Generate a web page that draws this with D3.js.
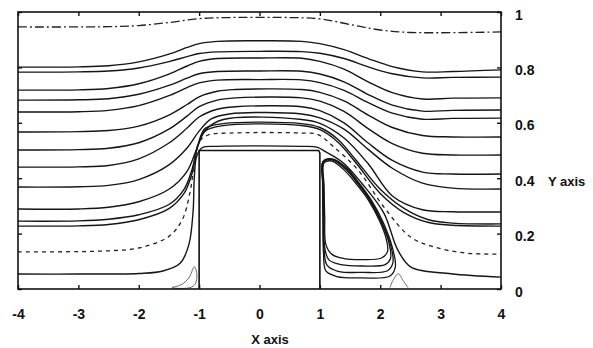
<!DOCTYPE html>
<html>
<head>
<meta charset="utf-8">
<script src="https://cdn.jsdelivr.net/npm/d3@7/dist/d3.min.js"></script>
<style>
  body { margin: 0; background: #fff; }
  svg { display: block; }
  text { font-family: "Liberation Sans", Arial, sans-serif; fill: #111; }
</style>
</head>
<body>
<div id="chart"></div>
<script>
const xTicks = [-4, -3, -2, -1, 0, 1, 2, 3, 4];
const yTicks = [0, 0.2, 0.4, 0.6, 0.8, 1];

// step (block) outline
const block = [[-1, 0], [-1, 0.5], [0.98, 0.5], [1.0, 0.49], [1.0, 0]];

// streamlines, top to bottom
const line1 = [[-4, 0.946], [-2.5, 0.947], [-2, 0.951], [-1.5, 0.962], [-1, 0.976], [-0.5, 0.98], [0.5, 0.98], [1, 0.975], [1.5, 0.955], [2, 0.935], [2.5, 0.926], [4, 0.928]];
const line2 = [[-4, 0.801], [-3, 0.802], [-2.5, 0.806], [-2, 0.82], [-1.5, 0.848], [-1.2, 0.872], [-1, 0.886], [-0.7, 0.894], [0, 0.896], [0.7, 0.894], [1, 0.886], [1.4, 0.864], [1.8, 0.832], [2.2, 0.803], [2.7, 0.784], [3.2, 0.785], [4, 0.791]];
const line3 = [[-4, 0.783], [-3, 0.784], [-2.5, 0.787], [-2, 0.798], [-1.5, 0.821], [-1.2, 0.839], [-1, 0.85], [-0.7, 0.856], [0, 0.858], [0.7, 0.857], [1, 0.851], [1.4, 0.832], [1.8, 0.802], [2.2, 0.777], [2.7, 0.762], [3.2, 0.764], [4, 0.765]];
const line4 = [[-4, 0.718], [-3, 0.719], [-2.5, 0.724], [-2, 0.741], [-1.5, 0.776], [-1.2, 0.805], [-1, 0.822], [-0.7, 0.832], [0, 0.834], [0.7, 0.833], [1, 0.822], [1.4, 0.794], [1.8, 0.748], [2.2, 0.709], [2.7, 0.686], [3.2, 0.689], [4, 0.69]];
const line5 = [[-4, 0.682], [-3, 0.683], [-2.5, 0.687], [-2, 0.703], [-1.5, 0.735], [-1.2, 0.761], [-1, 0.777], [-0.7, 0.785], [0, 0.787], [0.7, 0.786], [1, 0.776], [1.4, 0.748], [1.8, 0.702], [2.2, 0.664], [2.7, 0.642], [3.2, 0.645], [4, 0.646]];
const line6 = [[-4, 0.639], [-3, 0.64], [-2.5, 0.645], [-2, 0.662], [-1.5, 0.698], [-1.2, 0.727], [-1, 0.744], [-0.7, 0.754], [0, 0.756], [0.7, 0.755], [1, 0.745], [1.4, 0.717], [1.8, 0.673], [2.2, 0.635], [2.7, 0.613], [3.2, 0.616], [4, 0.617]];
const line7 = [[-4, 0.567], [-3, 0.568], [-2.5, 0.572], [-2, 0.588], [-1.5, 0.628], [-1.2, 0.666], [-1, 0.694], [-0.7, 0.714], [-0.4, 0.72], [0.7, 0.72], [1, 0.71], [1.4, 0.679], [1.8, 0.628], [2.2, 0.583], [2.7, 0.554], [3.2, 0.549], [4, 0.549]];
const line8 = [[-4, 0.502], [-3, 0.503], [-2.5, 0.508], [-2, 0.528], [-1.5, 0.577], [-1.2, 0.624], [-1, 0.658], [-0.7, 0.682], [-0.4, 0.69], [0.7, 0.69], [1, 0.678], [1.4, 0.641], [1.8, 0.579], [2.2, 0.525], [2.7, 0.49], [3.2, 0.484], [4, 0.484]];
const line9 = [[-4, 0.44], [-3, 0.441], [-2.5, 0.446], [-2, 0.47], [-1.5, 0.527], [-1.2, 0.581], [-1, 0.621], [-0.7, 0.649], [-0.4, 0.658], [0.7, 0.658], [1, 0.644], [1.4, 0.6], [1.8, 0.527], [2.2, 0.464], [2.7, 0.422], [3.2, 0.415], [4, 0.415]];
const line10 = [[-4, 0.368], [-3, 0.369], [-2.5, 0.374], [-2, 0.395], [-1.5, 0.448], [-1.2, 0.509], [-1, 0.57], [-0.8, 0.614], [-0.5, 0.632], [0.7, 0.632], [1, 0.618], [1.4, 0.577], [1.8, 0.504], [2.2, 0.436], [2.7, 0.382], [3.2, 0.364], [4, 0.361]];
const line11 = [[-4, 0.289], [-3, 0.289], [-2.5, 0.295], [-2, 0.315], [-1.5, 0.36], [-1.2, 0.425], [-1.05, 0.5], [-0.9, 0.573], [-0.6, 0.612], [0.7, 0.612], [1, 0.598], [1.4, 0.545], [1.8, 0.452], [2.2, 0.336], [2.7, 0.286], [3.2, 0.279], [4, 0.278]];
const line12 = [[-4, 0.245], [-3, 0.246], [-2.5, 0.252], [-2, 0.268], [-1.5, 0.305], [-1.25, 0.36], [-1.12, 0.43], [-1.02, 0.52], [-0.9, 0.58], [-0.6, 0.597], [0.7, 0.597], [1, 0.583], [1.3, 0.54], [1.6, 0.465], [2.0, 0.36], [2.4, 0.29], [2.8, 0.25], [3.2, 0.238], [4, 0.235]];
const line13 = [[-4, 0.227], [-3, 0.228], [-2.5, 0.233], [-2, 0.25], [-1.5, 0.29], [-1.25, 0.345], [-1.12, 0.415], [-1.03, 0.51], [-0.9, 0.57], [-0.6, 0.59], [0.7, 0.59], [1, 0.575], [1.3, 0.53], [1.6, 0.455], [2.0, 0.345], [2.4, 0.275], [2.8, 0.24], [3.2, 0.23], [4, 0.227]];
const line14 = [[-4, 0.134], [-3, 0.135], [-2.5, 0.138], [-2, 0.148], [-1.5, 0.19], [-1.28, 0.25], [-1.15, 0.35], [-1.08, 0.45], [-1.0, 0.53], [-0.85, 0.556], [-0.5, 0.563], [0.7, 0.563], [0.96, 0.558], [1.23, 0.513], [1.63, 0.43], [2.06, 0.296], [2.5, 0.188], [2.89, 0.152], [3.4, 0.13], [4, 0.126]];
const line15 = [[-4, 0.054], [-3, 0.054], [-2, 0.056], [-1.6, 0.065], [-1.31, 0.094], [-1.17, 0.16], [-1.1, 0.28], [-1.08, 0.4], [-1.04, 0.48], [-0.95, 0.51], [-0.7, 0.515], [0.7, 0.515], [0.95, 0.512], [1.1, 0.495], [1.39, 0.455], [1.7, 0.38], [2.06, 0.274], [2.29, 0.141], [2.51, 0.079], [3.17, 0.055], [4, 0.043]];

const solidLines = [line2, line3, line4, line5, line6, line7, line8, line9, line10, line11, line12, line13, line15];

// recirculation bubble behind the step (closed loops)
const vortex1 = [[1.07, 0.455], [1.2, 0.462], [1.4, 0.43], [1.6, 0.38], [1.8, 0.322], [1.98, 0.25], [2.1, 0.18], [2.12, 0.135], [2.02, 0.112], [1.7, 0.106], [1.4, 0.11], [1.2, 0.125], [1.1, 0.16], [1.08, 0.26], [1.07, 0.37]];
const vortex2 = [[1.06, 0.46], [1.2, 0.466], [1.42, 0.434], [1.62, 0.382], [1.82, 0.322], [2.0, 0.248], [2.14, 0.17], [2.17, 0.11], [2.08, 0.088], [1.7, 0.083], [1.35, 0.088], [1.15, 0.105], [1.08, 0.15], [1.065, 0.26], [1.06, 0.38]];
const vortex3 = [[1.055, 0.46], [1.2, 0.468], [1.43, 0.436], [1.63, 0.383], [1.84, 0.32], [2.02, 0.245], [2.17, 0.16], [2.21, 0.095], [2.12, 0.066], [1.7, 0.06], [1.3, 0.064], [1.12, 0.085], [1.07, 0.14], [1.055, 0.26], [1.05, 0.38]];
const vortex4 = [[1.05, 0.46], [1.2, 0.47], [1.44, 0.438], [1.64, 0.385], [1.86, 0.318], [2.05, 0.24], [2.2, 0.15], [2.25, 0.08], [2.16, 0.047], [1.7, 0.04], [1.28, 0.045], [1.1, 0.065], [1.06, 0.13], [1.05, 0.26], [1.045, 0.38]];
const vortexLoops = [vortex1, vortex2, vortex3, vortex4];

// small corner eddies
const cornerUp = [[-1.45, 0.005], [-1.3, 0.015], [-1.17, 0.04], [-1.08, 0.08], [-1.04, 0.06], [-1.06, 0.02], [-1.15, 0.005]];
const cornerDown = [[2.16, 0.005], [2.22, 0.035], [2.3, 0.055], [2.38, 0.03], [2.46, 0.005]];

const W = 593, H = 348;
const plot = { left: 18, right: 501, top: 12, bottom: 289 };

const x = d3.scaleLinear().domain([-4, 4]).range([plot.left, plot.right]);
const y = d3.scaleLinear().domain([0, 1]).range([plot.bottom, plot.top]);

const svg = d3.select('#chart')
  .append('svg')
  .attr('width', W)
  .attr('height', H);

svg.append('clipPath')
  .attr('id', 'clip')
  .append('rect')
  .attr('x', plot.left)
  .attr('y', plot.top)
  .attr('width', plot.right - plot.left)
  .attr('height', plot.bottom - plot.top);

const g = svg.append('g').attr('clip-path', 'url(#clip)');

const smooth = d3.line()
  .x(d => x(d[0]))
  .y(d => y(d[1]))
  .curve(d3.curveCatmullRom.alpha(0.5));

const closed = d3.line()
  .x(d => x(d[0]))
  .y(d => y(d[1]))
  .curve(d3.curveCatmullRomClosed.alpha(0.5));

g.selectAll('.stream')
  .data(solidLines)
  .enter()
  .append('path')
  .attr('class', 'stream')
  .attr('d', smooth)
  .attr('fill', 'none')
  .attr('stroke', '#151515')
  .attr('stroke-width', 1.4);

g.append('path')
  .attr('d', smooth(line1))
  .attr('fill', 'none')
  .attr('stroke', '#222')
  .attr('stroke-width', 1.3)
  .attr('stroke-dasharray', '9,3,2,3');

g.append('path')
  .attr('d', smooth(line14))
  .attr('fill', 'none')
  .attr('stroke', '#222')
  .attr('stroke-width', 1.3)
  .attr('stroke-dasharray', '4,4');

g.selectAll('.vortex')
  .data(vortexLoops)
  .enter()
  .append('path')
  .attr('class', 'vortex')
  .attr('d', closed)
  .attr('fill', 'none')
  .attr('stroke', '#151515')
  .attr('stroke-width', 1.3);

g.append('path')
  .attr('d', closed(cornerUp))
  .attr('fill', 'none')
  .attr('stroke', '#444')
  .attr('stroke-width', 0.8);

g.append('path')
  .attr('d', smooth(cornerDown))
  .attr('fill', 'none')
  .attr('stroke', '#444')
  .attr('stroke-width', 0.8);

g.append('path')
  .attr('d', d3.line().x(d => x(d[0])).y(d => y(d[1]))(block))
  .attr('fill', '#fff')
  .attr('stroke', '#111')
  .attr('stroke-width', 1.6);

// frame
svg.append('rect')
  .attr('x', plot.left)
  .attr('y', plot.top)
  .attr('width', plot.right - plot.left)
  .attr('height', plot.bottom - plot.top)
  .attr('fill', 'none')
  .attr('stroke', '#111')
  .attr('stroke-width', 1.6);

// axes with inward ticks
const xAxis = svg.append('g')
  .attr('transform', 'translate(0,' + plot.bottom + ')')
  .call(d3.axisBottom(x).tickValues(xTicks).tickFormat(d => String(d))
    .tickSizeInner(-4).tickSizeOuter(0).tickPadding(20));

svg.append('g')
  .attr('transform', 'translate(0,' + plot.top + ')')
  .call(d3.axisTop(x).tickValues(xTicks).tickFormat('')
    .tickSizeInner(-4).tickSizeOuter(0));

const yAxis = svg.append('g')
  .attr('transform', 'translate(' + plot.right + ',0)')
  .call(d3.axisRight(y).tickValues(yTicks).tickFormat(d => String(d))
    .tickSizeInner(-4).tickSizeOuter(0).tickPadding(14));

svg.append('g')
  .attr('transform', 'translate(' + plot.left + ',0)')
  .call(d3.axisLeft(y).tickValues(yTicks).tickFormat('')
    .tickSizeInner(-4).tickSizeOuter(0));

svg.selectAll('.domain').remove();
svg.selectAll('.tick line').attr('stroke', '#111').attr('stroke-width', 1.4);

xAxis.selectAll('text')
  .attr('font-size', 14)
  .attr('font-weight', 'bold')
  .attr('fill', '#111');

yAxis.selectAll('text')
  .attr('font-size', 14)
  .attr('font-weight', 'bold')
  .attr('fill', '#111')
  .attr('dy', '0.5em');

svg.append('text')
  .attr('x', 270)
  .attr('y', 344)
  .attr('text-anchor', 'middle')
  .attr('font-size', 13)
  .attr('font-weight', 'bold')
  .text('X axis');

svg.append('text')
  .attr('x', 548)
  .attr('y', 186)
  .attr('font-size', 13)
  .attr('font-weight', 'bold')
  .text('Y axis');
</script>
</body>
</html>
